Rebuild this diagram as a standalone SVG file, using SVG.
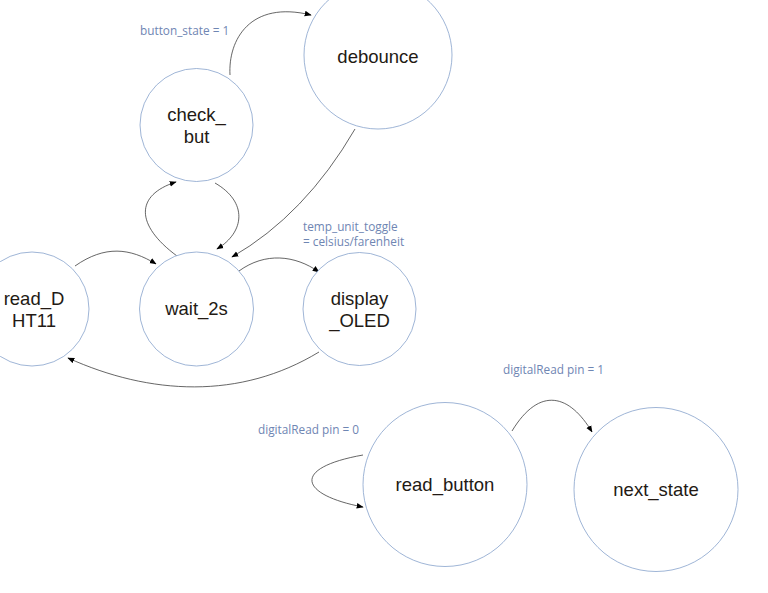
<svg xmlns="http://www.w3.org/2000/svg" width="768" height="593" viewBox="0 0 768 593">
<style>
.st{fill:#ffffff;stroke:#7f9cc8;stroke-width:0.75}
.nt{font-family:"Liberation Sans",Arial,sans-serif;font-size:18.5px;fill:#231a14;text-anchor:middle}
.lb{font-family:"Open Sans","Noto Sans",sans-serif;font-size:11.8px;fill:#6f86b3}
.ed{fill:none;stroke:#333333;stroke-width:0.75;marker-end:url(#ah)}
</style>
<defs>
<marker id="ah" viewBox="0 0 10 10" refX="9" refY="5" markerWidth="7" markerHeight="7" markerUnits="userSpaceOnUse" orient="auto">
<path d="M0,1 L10,5 L0,9 Z" fill="#000000"/>
</marker>
</defs>
<rect width="768" height="593" fill="#ffffff"/>
<g id="edges">
<path class="ed" d="M230,75 C228,40 250,0 311,15"/>
<path class="ed" d="M355,129 Q305,215 232,257"/>
<path class="ed" d="M177,256 C135,225 135,195 176,182"/>
<path class="ed" d="M215,183 C248,202 245,232 217,249"/>
<path class="ed" d="M75,266 C105,245 130,248 156,264"/>
<path class="ed" d="M239,271 C265,252 295,255 319,272"/>
<path class="ed" d="M319,352 C240,400 150,395 68,358"/>
<path class="ed" d="M363,455 C290,468 300,495 363,507"/>
<path class="ed" d="M512,431 C540,385 570,395 592,432"/>
</g>
<g id="labels">
<text class="lb" x="140" y="35">button_state = 1</text>
<text class="lb" x="303" y="231">temp_unit_toggle</text>
<text class="lb" x="303" y="246">= celsius/farenheit</text>
<text class="lb" x="503" y="374">digitalRead pin = 1</text>
<text class="lb" x="258" y="434">digitalRead pin = 0</text>
</g>
<g id="debounce">
<circle class="st" cx="378" cy="55" r="74"/>
<text class="nt" x="378" y="63">debounce</text>
</g>
<g id="check_but">
<circle class="st" cx="196.5" cy="125" r="56.5"/>
<text class="nt" x="196.5" y="121">check_</text>
<text class="nt" x="196.5" y="143">but</text>
</g>
<g id="read_DHT11">
<circle class="st" cx="32" cy="309" r="57"/>
<text class="nt" x="34" y="305">read_D</text>
<text class="nt" x="34" y="327">HT11</text>
</g>
<g id="wait_2s">
<circle class="st" cx="196.5" cy="309" r="57"/>
<text class="nt" x="196.5" y="315">wait_2s</text>
</g>
<g id="display_OLED">
<circle class="st" cx="359.5" cy="309" r="56.5"/>
<text class="nt" x="359.5" y="305">display</text>
<text class="nt" x="359.5" y="327">_OLED</text>
</g>
<g id="read_button">
<circle class="st" cx="445" cy="484.5" r="82"/>
<text class="nt" x="445" y="491">read_button</text>
</g>
<g id="next_state">
<circle class="st" cx="656" cy="489.5" r="82"/>
<text class="nt" x="656" y="496">next_state</text>
</g>
</svg>
